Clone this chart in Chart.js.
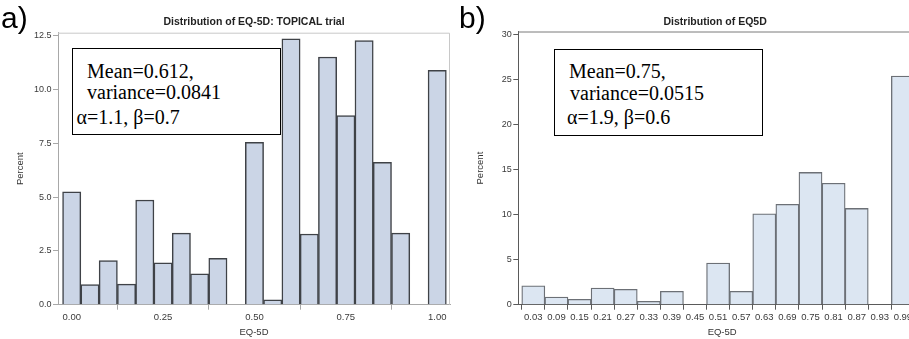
<!DOCTYPE html>
<html>
<head>
<meta charset="utf-8">
<script src="https://cdn.jsdelivr.net/npm/chart.js@4.4.1/dist/chart.umd.min.js"></script>
<style>
html, body { margin:0; padding:0; width:909px; height:339px; overflow:hidden; background:#fff; }
canvas { position:absolute; top:0; }
#chartA { left:0; }
#chartB { left:460px; }
.tag { position:absolute; font-family:"Liberation Sans", Arial, sans-serif; font-size:30px; line-height:30px; color:#000; }
.box { position:absolute; border:1.5px solid #000; background:#fff; box-sizing:border-box; }
.line { position:absolute; font-family:"Liberation Serif", "Times New Roman", serif; font-size:20px; line-height:20px; white-space:nowrap; color:#000; }
</style>
</head>
<body>
<canvas id="chartA" width="460" height="339"></canvas>
<canvas id="chartB" width="470" height="339"></canvas>

<div class="tag" style="left:1px;top:2.5px;">a)</div>
<div class="tag" style="left:459px;top:2.5px;">b)</div>

<div class="box" style="left:72px;top:48px;width:209px;height:87px;"></div>
<div class="line" style="left:87px;top:60.5px;">Mean=0.612,</div>
<div class="line" style="left:87px;top:82px;">variance=0.0841</div>
<div class="line" style="left:76.5px;top:107px;">&alpha;=1.1, &beta;=0.7</div>

<div class="box" style="left:554px;top:49px;width:209px;height:87px;"></div>
<div class="line" style="left:569px;top:60.5px;">Mean=0.75,</div>
<div class="line" style="left:570px;top:83px;">variance=0.0515</div>
<div class="line" style="left:567px;top:107px;">&alpha;=1.9, &beta;=0.6</div>

<script>
// panel a) - EQ-5D, TOPICAL trial (bin centres and percent per bin)
var binsA = [0.00, 0.05, 0.10, 0.15, 0.20, 0.25, 0.30, 0.35, 0.40, 0.45, 0.50,
             0.55, 0.60, 0.65, 0.70, 0.75, 0.80, 0.85, 0.90, 0.95, 1.00];
var pctA = [5.25, 0.93, 2.05, 0.96, 4.87, 1.95, 3.33, 1.44, 2.16, 0, 7.55,
            0.23, 12.37, 3.29, 11.52, 8.79, 12.28, 6.62, 3.33, 0, 10.9];
var xTicksA = [0.00, 0.25, 0.50, 0.75, 1.00];
var yTicksA = [0, 2.5, 5.0, 7.5, 10.0, 12.5];

// panel b) - EQ5D
var binsB = [0.03, 0.09, 0.15, 0.21, 0.27, 0.33, 0.39, 0.45, 0.51,
             0.57, 0.63, 0.69, 0.75, 0.81, 0.87, 0.93, 0.99];
var pctB = [2.1, 0.86, 0.6, 1.85, 1.7, 0.37, 1.48, 0, 4.63,
            1.48, 10.1, 11.15, 14.7, 13.5, 10.7, 0, 25.4];
var yTicksB = [0, 5, 10, 15, 20, 25, 30];

Chart.defaults.font.family = '"Liberation Sans", Arial, sans-serif';
Chart.defaults.animation = false;

// draws the chart title over the plot area and the top/right frame lines
var framePlugin = {
	id: 'frame',
	afterDraw: function(chart, args, opts) {
		var a = chart.chartArea;
		var ctx = chart.ctx;
		ctx.save();
		ctx.strokeStyle = opts.color;
		ctx.lineWidth = 1;
		ctx.beginPath();
		ctx.moveTo(a.left, a.top + 0.5);
		ctx.lineTo(a.right - 0.5, a.top + 0.5);
		ctx.lineTo(a.right - 0.5, a.bottom);
		ctx.stroke();
		ctx.fillStyle = '#222';
		ctx.font = 'bold 10.5px "Liberation Sans", Arial, sans-serif';
		ctx.textAlign = 'center';
		ctx.textBaseline = 'middle';
		ctx.fillText(opts.title, (a.left + a.right) / 2 + opts.shift, 22);
		ctx.restore();
	}
};

function histChart(id, bins, pct, s) {
	var points = [];
	for (var i = 0; i < bins.length; i++) {
		points.push({x: bins[i], y: pct[i]});
	}
	return new Chart(document.getElementById(id), {
		type: 'bar',
		data: {
			datasets: [{
				data: points,
				backgroundColor: s.fill,
				borderColor: s.edge,
				borderWidth: s.edgeWidth,
				barPercentage: 1,
				categoryPercentage: 1
			}]
		},
		plugins: [framePlugin],
		options: {
			responsive: false,
			devicePixelRatio: 1,
			layout: { padding: { left: 0, right: s.padRight, top: s.top, bottom: 0 } },
			plugins: {
				legend: { display: false },
				tooltip: { enabled: false },
				frame: { color: s.frame, title: s.title, shift: s.titleShift }
			},
			scales: {
				x: {
					type: 'linear',
					offset: false,
					min: s.xMin,
					max: s.xMax,
					afterBuildTicks: function(sc) { sc.ticks = s.xTicks.map(function(v) { return {value: v}; }); },
					afterFit: function(sc) { sc.height = 34.3; },
					ticks: {
						autoSkip: false, maxRotation: 0, padding: 2,
						color: '#3a3a3a', font: { size: 9.5 },
						callback: function(v) { return v.toFixed(2); }
					},
					grid: { drawOnChartArea: false, tickLength: 5, color: s.axis },
					border: { color: s.axis },
					title: { display: true, text: 'EQ-5D', color: '#333', font: { size: 9.5 }, padding: { top: 0, bottom: 1 } }
				},
				y: {
					min: 0,
					max: s.yMax,
					afterBuildTicks: function(sc) { sc.ticks = s.yTicks.map(function(v) { return {value: v}; }); },
					afterFit: function(sc) { sc.width = s.yWidth; },
					ticks: {
						padding: 1.5, color: '#3a3a3a', font: { size: 9 },
						callback: function(v) { return v.toFixed(s.yDec); }
					},
					grid: { drawOnChartArea: false, tickLength: 5, color: s.axis },
					border: { color: s.axis },
					title: { display: true, text: 'Percent', color: '#333', font: { size: 9.5 }, padding: { top: 14.3, bottom: 0 } }
				}
			}
		}
	});
}

histChart('chartA', binsA, pctA, {
	title: 'Distribution of EQ-5D: TOPICAL trial', titleShift: 0,
	fill: '#cbd5e6', edge: '#3f4247', edgeWidth: 1.5,
	axis: '#a8a8a8', frame: '#c8c8c8',
	top: 32.7, padRight: 10, yWidth: 58,
	xMin: -0.0375, xMax: 1.035, xTicks: xTicksA,
	yMax: 12.65, yTicks: yTicksA, yDec: 1
});

histChart('chartB', binsB, pctB, {
	title: 'Distribution of EQ5D', titleShift: -7,
	fill: '#dce6f2', edge: '#6c7076', edgeWidth: 1.3,
	axis: '#5a5a5a', frame: '#7a7a7a',
	top: 31.5, padRight: 4, yWidth: 58.3,
	xMin: -0.009, xMax: 1.05, xTicks: binsB,
	yMax: 30.36, yTicks: yTicksB, yDec: 0
});
</script>
</body>
</html>
